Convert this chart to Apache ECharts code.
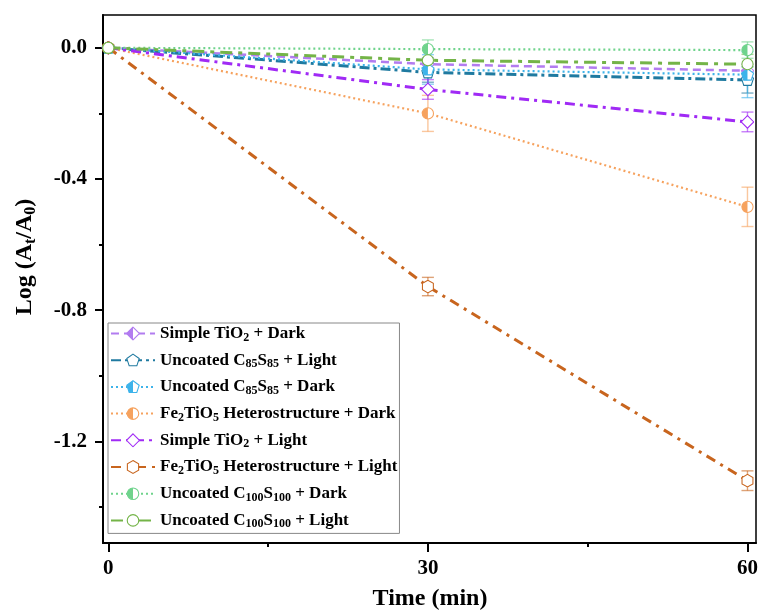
<!DOCTYPE html>
<html>
<head>
<meta charset="utf-8">
<script src="https://cdn.jsdelivr.net/npm/echarts@6/dist/echarts.min.js"></script>
<style>
  html, body { margin: 0; padding: 0; background: #fff; }
  #chart { width: 762px; height: 614px; }
</style>
</head>
<body>
<div id="chart"></div>
<script>
// Irradiation time points (min)
const times = [0, 30, 60];

// Log(At/A0) for each sample / condition
const tio2Dark     = [0, -0.050, -0.070];
const c85Light     = [0, -0.075, -0.098];
const c85Dark      = [0, -0.066, -0.082];
const feDark       = [0, -0.200, -0.485];
const tio2Light    = [0, -0.127, -0.226];
const feLight      = [0, -0.728, -1.320];
const c100Dark     = [0, -0.004, -0.007];
const c100Light    = [0, -0.038, -0.050];

// Standard deviations (error bars)
const tio2DarkErr  = [0, 0.020, 0.020];
const c85LightErr  = [0, 0.030, 0.040];
const c85DarkErr   = [0, 0.045, 0.070];
const feDarkErr    = [0, 0.055, 0.060];
const tio2LightErr = [0, 0.030, 0.030];
const feLightErr   = [0, 0.028, 0.030];
const c100DarkErr  = [0, 0.028, 0.025];
const c100LightErr = [0, 0.030, 0.030];

// Axis tick positions
const yLabelTicks = [0, -0.4, -0.8, -1.2];
const yMinorTicks = [-0.2, -0.6, -1.0, -1.4];
const xLabelTicks = [0, 30, 60];
const xMinorTicks = [15, 45];

const FONT = '"Liberation Serif", "Times New Roman", serif';

// Marker shapes in a 20x20 box
const shapes = {
  circle:   '<circle cx="10" cy="10" r="8"/>',
  diamond:  '<polygon points="10,1 19,10 10,19 1,10"/>',
  pentagon: '<polygon points="10,1.5 18.6,7.7 15.3,17.8 4.7,17.8 1.4,7.7"/>',
  hexagon:  '<polygon points="10,1 17.8,5.5 17.8,14.5 10,19 2.2,14.5 2.2,5.5"/>'
};

function marker(shape, color, half) {
  const s = shapes[shape];
  let svg = '<svg xmlns="http://www.w3.org/2000/svg" width="20" height="20" viewBox="0 0 20 20">' +
    '<defs><clipPath id="h"><rect x="0" y="0" width="10" height="20"/></clipPath></defs>' +
    '<g fill="#fff" stroke="none">' + s + '</g>';
  if (half) svg += '<g fill="' + color + '" stroke="none" clip-path="url(#h)">' + s + '</g>';
  svg += '<g fill="none" stroke="' + color + '" stroke-width="1.5">' + s + '</g></svg>';
  return 'image://data:image/svg+xml;charset=utf-8,' + encodeURIComponent(svg);
}

const seriesDefs = [
  { name: 'Simple TiO2 + Dark', vals: tio2Dark, err: tio2DarkErr, color: '#B27CF0', shape: 'diamond', half: true, dash: [8, 5], width: 2.5,
    label: '{t|Simple TiO}{s|2}{t| + Dark}' },
  { name: 'Uncoated C85S85 + Light', vals: c85Light, err: c85LightErr, color: '#1F7AA0', shape: 'pentagon', half: false, dash: [10, 4, 3, 4], width: 3,
    label: '{t|Uncoated C}{s|85}{t|S}{s|85}{t| + Light}' },
  { name: 'Uncoated C85S85 + Dark', vals: c85Dark, err: c85DarkErr, color: '#3DB3EA', shape: 'pentagon', half: true, dash: [2, 3], width: 2.2,
    label: '{t|Uncoated C}{s|85}{t|S}{s|85}{t| + Dark}' },
  { name: 'Fe2TiO5 Heterostructure + Dark', vals: feDark, err: feDarkErr, color: '#F6A25E', shape: 'circle', half: true, dash: [2, 3], width: 2.2,
    label: '{t|Fe}{s|2}{t|TiO}{s|5}{t| Heterostructure + Dark}' },
  { name: 'Simple TiO2 + Light', vals: tio2Light, err: tio2LightErr, color: '#A02AF5', shape: 'diamond', half: false, dash: [10, 5, 3, 5], width: 3,
    label: '{t|Simple TiO}{s|2}{t| + Light}' },
  { name: 'Fe2TiO5 Heterostructure + Light', vals: feLight, err: feLightErr, color: '#C8651E', shape: 'hexagon', half: false, dash: [10, 6, 3, 6], width: 3,
    label: '{t|Fe}{s|2}{t|TiO}{s|5}{t| Heterostructure + Light}' },
  { name: 'Uncoated C100S100 + Dark', vals: c100Dark, err: c100DarkErr, color: '#6FD38C', shape: 'circle', half: true, dash: [2, 3], width: 2.2,
    label: '{t|Uncoated C}{s|100}{t|S}{s|100}{t| + Dark}' },
  { name: 'Uncoated C100S100 + Light', vals: c100Light, err: c100LightErr, color: '#74B448', shape: 'circle', half: false, dash: [12, 6, 4, 6], width: 3,
    label: '{t|Uncoated C}{s|100}{t|S}{s|100}{t| + Light}' }
];

const labelMap = {};
seriesDefs.forEach(d => { labelMap[d.name] = d.label; });

const series = [];
seriesDefs.forEach((d, i) => {
  // error bars
  series.push({
    name: d.name + ' (sd)',
    type: 'custom',
    z: 2 + i * 0.01,
    data: times.map((t, k) => [t, d.vals[k], d.err[k]]),
    renderItem: function (params, api) {
      const x = api.value(0), y = api.value(1), e = api.value(2);
      if (!e) return null;
      const top = api.coord([x, y + e]);
      const bot = api.coord([x, y - e]);
      const w = 6;
      const st = { stroke: d.color, lineWidth: 1.4, opacity: 0.6 };
      return {
        type: 'group',
        children: [
          { type: 'line', shape: { x1: top[0], y1: top[1], x2: bot[0], y2: bot[1] }, style: st },
          { type: 'line', shape: { x1: top[0] - w, y1: top[1], x2: top[0] + w, y2: top[1] }, style: st },
          { type: 'line', shape: { x1: bot[0] - w, y1: bot[1], x2: bot[0] + w, y2: bot[1] }, style: st }
        ]
      };
    },
    silent: true
  });
  series.push({
    name: d.name,
    type: 'line',
    z: 3 + i * 0.01,
    data: times.map((t, k) => [t, d.vals[k]]),
    symbol: marker(d.shape, d.color, d.half),
    symbolSize: 14,
    showAllSymbol: true,
    color: d.color,
    lineStyle: { color: d.color, width: d.width, type: d.dash },
    itemStyle: { color: d.color },
    animation: false
  });
});

const xRange = [-0.5, 60.8];
const yRange = [-1.51, 0.1];
const LABEL = { color: '#000', fontFamily: FONT, fontWeight: 'bold', fontSize: 21 };

function baseAxis(extra) {
  return Object.assign({
    type: 'value',
    splitLine: { show: false },
    axisLine: { show: true, onZero: false, lineStyle: { color: '#000', width: 2 } },
    axisTick: { show: true, inside: false, length: 8, lineStyle: { color: '#000', width: 2 } },
    axisLabel: LABEL
  }, extra);
}

const option = {
  backgroundColor: '#fff',
  animation: false,
  grid: { left: 103, right: 6, top: 15, bottom: 71, show: true, borderColor: '#000', borderWidth: 1.5, backgroundColor: 'transparent' },
  xAxis: [
    baseAxis({
      min: xRange[0], max: xRange[1],
      axisTick: { show: true, length: 9, customValues: xLabelTicks, lineStyle: { color: '#000', width: 2 } },
      axisLabel: Object.assign({}, LABEL, { margin: 15, customValues: xLabelTicks, formatter: v => String(v) })
    }),
    baseAxis({
      min: xRange[0], max: xRange[1], position: 'bottom',
      axisLine: { show: false, onZero: false },
      axisTick: { show: true, length: 4, customValues: xMinorTicks, lineStyle: { color: '#000', width: 2 } },
      axisLabel: { show: false }
    })
  ],
  yAxis: [
    baseAxis({
      min: yRange[0], max: yRange[1],
      axisTick: { show: true, length: 8, customValues: yLabelTicks, lineStyle: { color: '#000', width: 2 } },
      axisLabel: Object.assign({}, LABEL, { margin: 16, customValues: yLabelTicks, formatter: v => v.toFixed(1) })
    }),
    baseAxis({
      min: yRange[0], max: yRange[1], position: 'left',
      axisLine: { show: false, onZero: false },
      axisTick: { show: true, length: 4, customValues: yMinorTicks, lineStyle: { color: '#000', width: 2 } },
      axisLabel: { show: false }
    })
  ],
  legend: {
    orient: 'vertical',
    left: 108, top: 323,
    padding: [2, 2, 3, 2],
    itemWidth: 44, itemHeight: 18, itemGap: 8.2,
    borderColor: '#888', borderWidth: 1,
    backgroundColor: '#fff',
    data: seriesDefs.map(d => d.name),
    formatter: name => labelMap[name],
    textStyle: {
      rich: {
        t: { fontFamily: FONT, fontWeight: 'bold', fontSize: 17, color: '#000', lineHeight: 20 },
        s: { fontFamily: FONT, fontWeight: 'bold', fontSize: 12, color: '#000', lineHeight: 12, verticalAlign: 'bottom' }
      }
    }
  },
  graphic: [
    {
      type: 'text',
      x: 430, y: 599,
      style: { text: 'Time (min)', font: 'bold 24px ' + FONT, fill: '#000', align: 'center', verticalAlign: 'middle' }
    },
    {
      type: 'text',
      x: 25, y: 257,
      rotation: Math.PI / 2,
      style: {
        text: '{t|Log (A}{s|t}{t|/A}{s|0}{t|)}',
        align: 'center', verticalAlign: 'middle',
        rich: {
          t: { font: 'bold 24px ' + FONT, fill: '#000', lineHeight: 28 },
          s: { font: 'bold 16px ' + FONT, fill: '#000', lineHeight: 16, verticalAlign: 'bottom' }
        }
      }
    }
  ],
  series: series
};

const chart = echarts.init(document.getElementById('chart'), null, { renderer: 'canvas' });
chart.setOption(option);
</script>
</body>
</html>
